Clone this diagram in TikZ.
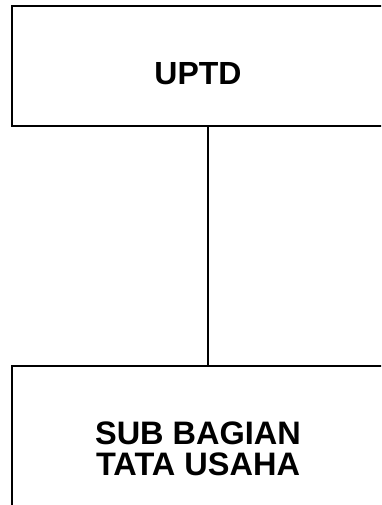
\documentclass[tikz,border=0pt]{standalone}
\usepackage{fontspec}
\setmainfont{Liberation Sans}
\usepackage{tikz}
\usetikzlibrary{positioning}

\begin{document}
\begin{tikzpicture}[x=1pt,y=-1pt,
  every node/.style={rectangle,draw,line width=2pt,align=center,
    font=\bfseries\fontsize{32}{29}\selectfont},
  unitbox/.style={anchor=north west,minimum width=372pt}]
\useasboundingbox (0,0) rectangle (381,505);
\clip (0,0) rectangle (381,505);
\node[unitbox,minimum height=120pt,text height=38pt,text depth=0pt] (uptd) at (11,5) {UPTD};
\node[unitbox,inner ysep=56pt,font=\bfseries\fontsize{32.5}{31}\selectfont] (subbag) at (11,365) {SUB BAGIAN\\TATA USAHA};
\draw[line width=2pt] ([xshift=10pt]uptd.south) -- ([xshift=10pt]uptd.south |- subbag.north);
\end{tikzpicture}
\end{document}
